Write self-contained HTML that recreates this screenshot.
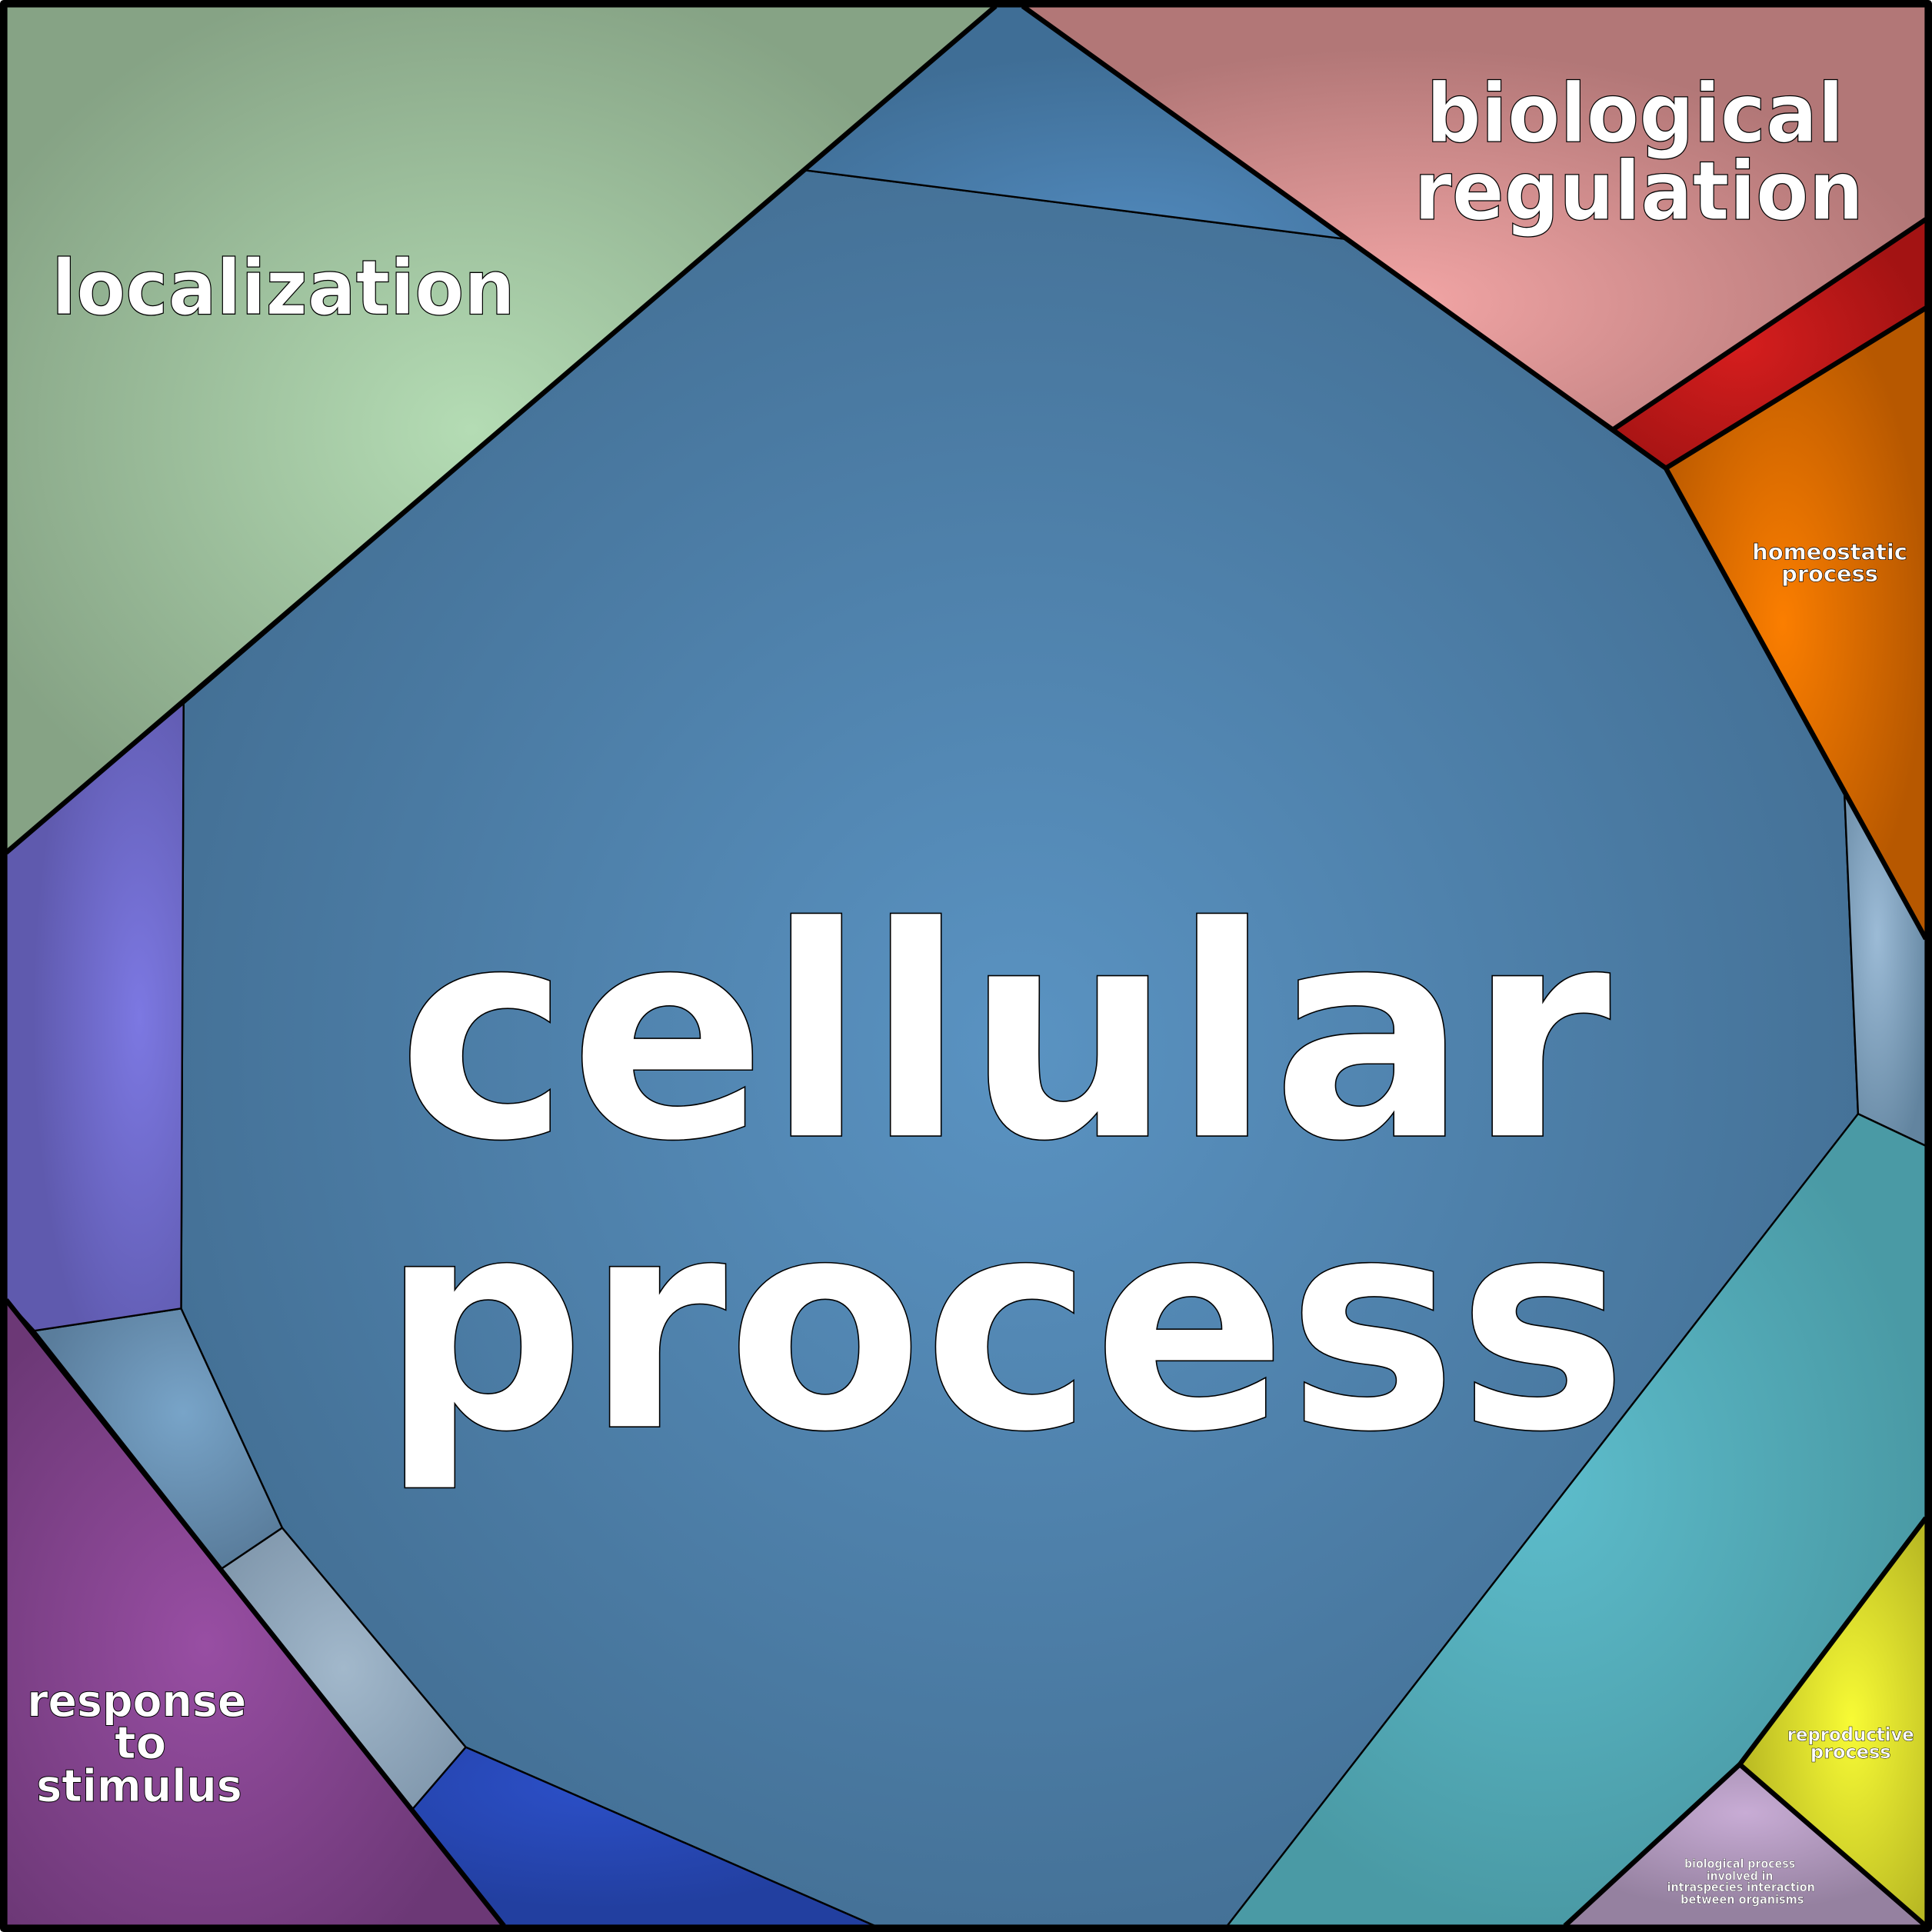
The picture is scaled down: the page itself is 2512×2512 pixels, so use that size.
<!DOCTYPE html>
<html><head><meta charset="utf-8"><style>html,body{margin:0;padding:0;background:#fff}svg{display:block}</style></head>
<body>
<svg width="2512" height="2512" viewBox="0 0 1568 1568" xmlns="http://www.w3.org/2000/svg">
<defs>
<radialGradient id="gc" cx="0.5" cy="0.5" r="0.55"><stop offset="0" stop-color="#5a93c2"/><stop offset="1" stop-color="#436f94"/></radialGradient>
<radialGradient id="gt" cx="0.6" cy="1" r="0.8"><stop offset="0" stop-color="#5088bb"/><stop offset="1" stop-color="#3f6e96"/></radialGradient>
<radialGradient id="gl" cx="0.47" cy="0.5" r="0.55"><stop offset="0" stop-color="#b4dcb4"/><stop offset="1" stop-color="#86a385"/></radialGradient>
<radialGradient id="gb" cx="0.42" cy="0.7" r="0.6"><stop offset="0" stop-color="#f2a5a5"/><stop offset="1" stop-color="#b27777"/></radialGradient>
<radialGradient id="gr" cx="0.4" cy="0.5" r="0.6"><stop offset="0" stop-color="#d61e1e"/><stop offset="1" stop-color="#a31313"/></radialGradient>
<radialGradient id="go" cx="0.45" cy="0.5" r="0.55"><stop offset="0" stop-color="#fb7e00"/><stop offset="1" stop-color="#b75800"/></radialGradient>
<radialGradient id="gg" cx="0.4" cy="0.4" r="0.7"><stop offset="0" stop-color="#9cbbd6"/><stop offset="1" stop-color="#62849f"/></radialGradient>
<radialGradient id="gte" cx="0.45" cy="0.45" r="0.55"><stop offset="0" stop-color="#5dbdcc"/><stop offset="1" stop-color="#4a9aa5"/></radialGradient>
<radialGradient id="gy" cx="0.6" cy="0.5" r="0.6"><stop offset="0" stop-color="#f8fb35"/><stop offset="1" stop-color="#b8b823"/></radialGradient>
<radialGradient id="gla" cx="0.5" cy="0.3" r="0.6"><stop offset="0" stop-color="#c8acd5"/><stop offset="1" stop-color="#9581a0"/></radialGradient>
<radialGradient id="gp" cx="0.4" cy="0.55" r="0.6"><stop offset="0" stop-color="#984ea3"/><stop offset="1" stop-color="#6c3876"/></radialGradient>
<radialGradient id="gbl" cx="0.4" cy="0.2" r="0.7"><stop offset="0" stop-color="#2c50c9"/><stop offset="1" stop-color="#223fa0"/></radialGradient>
<radialGradient id="gs" cx="0.5" cy="0.5" r="0.6"><stop offset="0" stop-color="#a2b8cb"/><stop offset="1" stop-color="#8198ad"/></radialGradient>
<radialGradient id="gsb" cx="0.6" cy="0.4" r="0.6"><stop offset="0" stop-color="#78a4c8"/><stop offset="1" stop-color="#5a7d9c"/></radialGradient>
<radialGradient id="gv" cx="0.75" cy="0.5" r="0.6"><stop offset="0" stop-color="#7c78e2"/><stop offset="1" stop-color="#5f5aae"/></radialGradient>
</defs>
<g stroke="#000" stroke-width="1.5" stroke-linejoin="round">
<polygon fill="url(#gc)" points="652,138 1092,194 1352,380 1497,645 1508,904 996,1563 710,1563 378,1418 229,1240 147,1062 149,571"/>
<polygon fill="url(#gt)" points="808,5 830,5 1092,194 652,138"/>
<polygon fill="url(#gl)" points="5,5 808,5 652,138 149,571 5,692"/>
<polygon fill="url(#gb)" points="830,5 1563,5 1563,178 1310,348 1092,194"/>
<polygon fill="url(#gr)" points="1310,348 1563,178 1563,250 1352,380"/>
<polygon fill="url(#go)" points="1352,380 1563,250 1563,762 1497,645"/>
<polygon fill="url(#gg)" points="1497,645 1563,762 1563,930 1508,904"/>
<polygon fill="url(#gte)" points="1508,904 1563,930 1563,1232 1412,1432 1270,1563 996,1563"/>
<polygon fill="url(#gy)" points="1563,1232 1563,1563 1412,1432"/>
<polygon fill="url(#gla)" points="1270,1563 1412,1432 1563,1563"/>
<polygon fill="url(#gp)" points="5,1055 409,1563 5,1563"/>
<polygon fill="url(#gbl)" points="335,1468 378,1418 710,1563 409,1563"/>
<polygon fill="url(#gs)" points="180,1273 229,1240 378,1418 335,1468"/>
<polygon fill="url(#gsb)" points="28,1080 147,1062 229,1240 180,1273"/>
<polygon fill="url(#gv)" points="5,692 149,571 147,1062 28,1080 5,1055"/>
</g>
<g stroke="#000" stroke-width="4" fill="none" stroke-linejoin="round">
<polyline points="5,692 808,5"/>
<polyline points="830,5 1352,380 1563,250"/>
<polyline points="1352,380 1563,762"/>
<polyline points="1310,348 1563,178"/>
<polyline points="1563,1232 1412,1432 1563,1563"/>
<polyline points="1270,1563 1412,1432"/>
<polyline points="5,1055 409,1563"/>
<rect x="3" y="3" width="1562" height="1562" stroke-width="6"/>
</g>
<g font-family="DejaVu Sans, Liberation Sans, sans-serif" font-weight="bold" fill="#fff" stroke="#000" text-anchor="middle">
<text x="815" y="922" font-size="238" stroke-width="1" textLength="985" lengthAdjust="spacingAndGlyphs">cellular</text>
<text x="815" y="1158" font-size="238" stroke-width="1" textLength="1012" lengthAdjust="spacingAndGlyphs">process</text>
<text x="230" y="255" font-size="62" stroke-width="0.8" textLength="376" lengthAdjust="spacingAndGlyphs">localization</text>
<text x="1327" y="115" font-size="66" stroke-width="0.8" textLength="339" lengthAdjust="spacingAndGlyphs">biological</text>
<text x="1330" y="178" font-size="66" stroke-width="0.8" textLength="365" lengthAdjust="spacingAndGlyphs">regulation</text>
<text x="1485" y="454" font-size="18" stroke-width="0.4" textLength="126" lengthAdjust="spacingAndGlyphs">homeostatic</text>
<text x="1485" y="472" font-size="18" stroke-width="0.4">process</text>
<text x="111" y="1393" font-size="36" stroke-width="0.6" textLength="178" lengthAdjust="spacingAndGlyphs">response</text>
<text x="114" y="1427" font-size="36" stroke-width="0.6">to</text>
<text x="113" y="1462" font-size="36" stroke-width="0.6" textLength="167" lengthAdjust="spacingAndGlyphs">stimulus</text>
<text x="1502" y="1413" font-size="15" stroke-width="0.3" textLength="103" lengthAdjust="spacingAndGlyphs">reproductive</text>
<text x="1502" y="1427" font-size="15" stroke-width="0.3">process</text>
<g font-size="10" stroke-width="0.2">
<text x="1412" y="1516" textLength="90" lengthAdjust="spacingAndGlyphs">biological process</text>
<text x="1412" y="1526" textLength="54" lengthAdjust="spacingAndGlyphs">involved in</text>
<text x="1413" y="1535" textLength="120" lengthAdjust="spacingAndGlyphs">intraspecies interaction</text>
<text x="1414" y="1545" textLength="100" lengthAdjust="spacingAndGlyphs">between organisms</text>
</g>
</g>
</svg>
</body></html>
